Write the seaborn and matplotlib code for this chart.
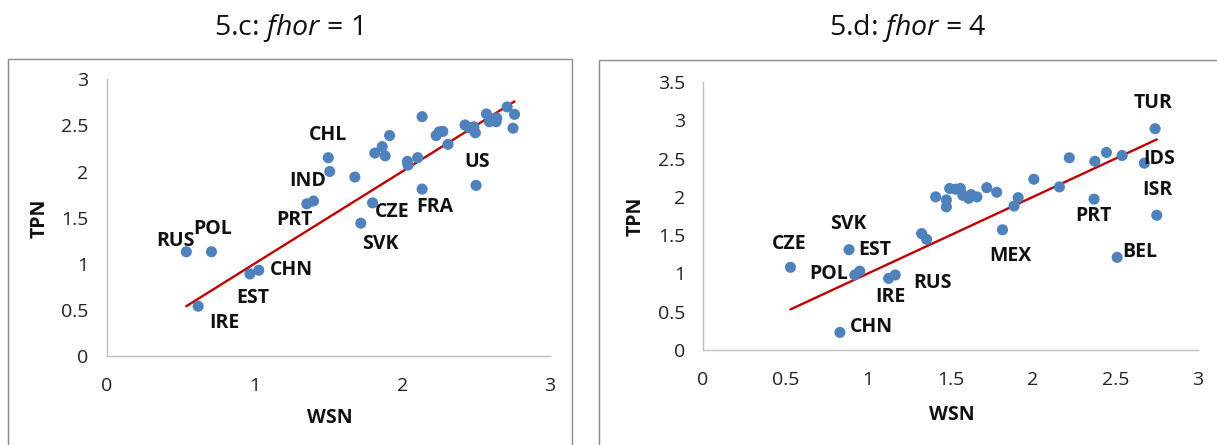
import matplotlib
matplotlib.use("Agg")
import matplotlib.pyplot as plt
from matplotlib.patches import Rectangle
import seaborn as sns
import pandas as pd
import numpy as np

# ---- Panel 5.c (fhor = 1) ----
wsn_c = [0.54, 0.71, 0.62, 0.97, 1.03, 1.355, 1.40, 1.50, 1.51, 1.68, 1.72, 1.80,
         1.815, 1.865, 1.885, 1.915, 2.035, 2.04, 2.105, 2.135, 2.135, 2.23, 2.25,
         2.275, 2.31, 2.425, 2.455, 2.485, 2.495, 2.50, 2.57, 2.59, 2.61, 2.635,
         2.64, 2.71, 2.76, 2.75]
tpn_c = [1.13, 1.13, 0.54, 0.89, 0.93, 1.65, 1.68, 2.15, 2.00, 1.94, 1.44, 1.66,
         2.20, 2.27, 2.17, 2.39, 2.11, 2.07, 2.15, 2.595, 1.81, 2.39, 2.43,
         2.435, 2.295, 2.505, 2.475, 2.485, 2.42, 1.85, 2.625, 2.54, 2.57, 2.54,
         2.58, 2.70, 2.62, 2.47]
labels_c = ["RUS", "POL", "IRE", "EST", "CHN", "PRT", "IND", "CHL", "SVK", "CZE", "FRA", "US"]
label_x_c = [0.47, 0.72, 0.80, 0.99, 1.25, 1.27, 1.36, 1.50, 1.85, 1.93, 2.22, 2.505]
label_y_c = [1.25, 1.38, 0.36, 0.63, 0.93, 1.47, 1.90, 2.40, 1.21, 1.56, 1.62, 2.10]

# ---- Panel 5.d (fhor = 4) ----
wsn_d = [0.53, 0.885, 0.92, 0.95, 0.83, 1.125, 1.165, 1.325, 1.355, 1.41, 1.475,
         1.475, 1.495, 1.53, 1.56, 1.575, 1.61, 1.625, 1.66, 1.72, 1.78, 1.815,
         1.885, 1.91, 2.005, 2.16, 2.22, 2.37, 2.375, 2.445, 2.54, 2.51, 2.675,
         2.74, 2.75]
tpn_d = [1.08, 1.31, 0.98, 1.03, 0.23, 0.935, 0.98, 1.52, 1.445, 2.00, 1.96,
         1.87, 2.11, 2.10, 2.11, 2.02, 1.98, 2.03, 2.00, 2.12, 2.06, 1.57,
         1.88, 1.99, 2.23, 2.13, 2.51, 1.97, 2.465, 2.58, 2.54, 1.21, 2.44,
         2.89, 1.76]
labels_d = ["TUR", "IDS", "ISR", "PRT", "BEL", "MEX", "RUS", "IRE", "CHN", "POL", "EST", "SVK", "CZE"]
label_x_d = [2.73, 2.765, 2.755, 2.365, 2.645, 1.865, 1.39, 1.135, 1.02, 0.76, 1.04, 0.88, 0.525]
label_y_d = [3.22, 2.495, 2.09, 1.75, 1.275, 1.225, 0.88, 0.69, 0.30, 0.99, 1.31, 1.65, 1.39]

# trend line: TPN = slope * WSN + intercept
trend_slope = 1.0
trend_intercept = 0.0

titles = ["5.c: ", "5.d: "]
title_values = ["1", "4"]

sns.set_theme(style="white")
plt.rcParams["font.family"] = ["Open Sans", "DejaVu Sans"]
plt.rcParams["mathtext.fontset"] = "custom"
plt.rcParams["mathtext.rm"] = "Open Sans"
plt.rcParams["mathtext.it"] = "Open Sans:italic"

W, H = 1217, 445
fig = plt.figure(figsize=(W / 100, H / 100), dpi=100)
fig.patch.set_facecolor("white")

# chart-area frames
fig.add_artist(Rectangle((8 / W, -0.1), (572 - 8) / W, 1 - 59 / H + 0.1,
                         transform=fig.transFigure, fill=False,
                         edgecolor="#8C8C8C", lw=1.0))
fig.add_artist(Rectangle((599 / W, -0.1), 0.6, 1 - 60 / H + 0.1,
                         transform=fig.transFigure, fill=False,
                         edgecolor="#8C8C8C", lw=1.0))

ax_c = fig.add_axes([106.5 / W, (H - 356) / H, 443.5 / W, 276.7 / H])
ax_d = fig.add_axes([703 / W, (H - 350) / H, 495 / W, 268 / H])

panels = [
    (ax_c, wsn_c, tpn_c, labels_c, label_x_c, label_y_c, 3.0, [0, 0.5, 1, 1.5, 2, 2.5, 3],
     [0, 1, 2, 3], (0.504, -0.224), (-0.15, 0.499)),
    (ax_d, wsn_d, tpn_d, labels_d, label_x_d, label_y_d, 3.5, [0, 0.5, 1, 1.5, 2, 2.5, 3, 3.5],
     [0, 0.5, 1, 1.5, 2, 2.5, 3], (0.503, -0.243), (-0.137, 0.50)),
]

blue = "#4F81BD"
red = "#C00000"

for ax, xs, ys, labs, lx, ly, ymax, yticks, xticks, xlab_pos, ylab_pos in panels:
    df = pd.DataFrame({"WSN": xs, "TPN": ys})
    sns.scatterplot(data=df, x="WSN", y="TPN", ax=ax, color=blue, s=64,
                    edgecolor="none", linewidth=0, zorder=3)
    xfit = np.array([min(xs), max(xs)])
    fit = pd.DataFrame({"WSN": xfit, "TPN": trend_slope * xfit + trend_intercept})
    sns.lineplot(data=fit, x="WSN", y="TPN", ax=ax, color=red, lw=1.7, zorder=2)
    for t, x, y in zip(labs, lx, ly):
        ax.text(x, y, t, ha="center", va="center", fontsize=14,
                fontweight="bold", color="#111111", zorder=4)
    ax.set_xlim(0, 3)
    ax.set_ylim(0, ymax)
    ax.set_xticks(xticks)
    ax.set_yticks(yticks)
    ax.set_xticklabels([f"{v:g}" for v in xticks])
    ax.set_yticklabels([f"{v:g}" for v in yticks])
    for side in ["top", "right"]:
        ax.spines[side].set_visible(False)
    for side in ["left", "bottom"]:
        ax.spines[side].set_color("#BFBFBF")
        ax.spines[side].set_linewidth(1.0)
    ax.tick_params(axis="both", length=0, labelsize=14, labelcolor="#222222")
    ax.tick_params(axis="y", pad=13)
    ax.tick_params(axis="x", pad=15)
    ax.set_xlabel("WSN", fontsize=14, fontweight="bold", color="#111111")
    ax.set_ylabel("TPN", fontsize=14, fontweight="bold", color="#111111")
    ax.xaxis.label.set_va("center")
    ax.yaxis.label.set_va("center")
    ax.xaxis.set_label_coords(*xlab_pos)
    ax.yaxis.set_label_coords(*ylab_pos)
    ax.set_facecolor("white")

title_x = [288, 908]
for tx, head, val in zip(title_x, titles, title_values):
    fig.text(tx / W, 1 - 35 / H, head + r"$\mathit{fhor}$" + " = " + val,
             ha="center", va="baseline", fontsize=20.5, color="#111111")

fig.savefig("out.png", dpi=100, facecolor="white")
